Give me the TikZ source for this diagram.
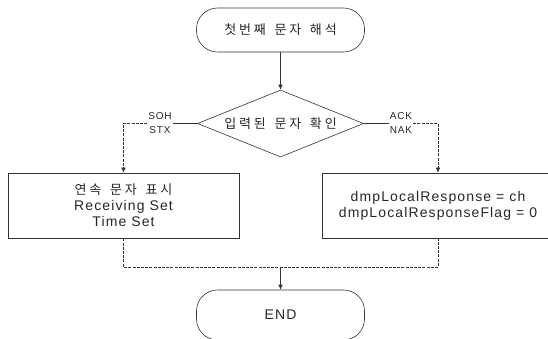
\documentclass[tikz,border=0pt]{standalone}
\usepackage{fontspec}
\setmainfont{Liberation Sans}[LetterSpace=8]
\newfontfamily\kr{Noto Sans CJK KR}[LetterSpace=22,WordSpace=1.5]
\usetikzlibrary{shapes.geometric,arrows.meta}
\begin{document}
\begin{tikzpicture}[x=1pt,y=-1pt,
  every node/.style={font=\fontsize{14}{16}\selectfont, text=black!85},
  ln/.style={draw=black!80, line width=0.6pt},
  term/.style={ln, rectangle, rounded corners=21pt, minimum width=168pt, minimum height=44pt, inner sep=0pt},
  procbox/.style={ln, rectangle, minimum height=65pt, inner sep=0pt, align=center},
  dec/.style={ln, diamond, shape aspect=2.5, inner sep=0pt, minimum width=166pt, minimum height=67pt},
  conn/.style={draw=black!80, line width=0.6pt},
  dconn/.style={conn, dash pattern=on 3pt off 1.2pt},
  arr/.style={-{Latex[length=5pt,width=4.5pt]}},
  lbl/.style={font=\fontsize{10}{14}\selectfont, fill=white, inner sep=1pt, align=center}]
\useasboundingbox (0,0) rectangle (548,339);
\clip (0,0) rectangle (548,339);
\node[term] (start) at (280.5,30) {\fontsize{13}{15}\kr 첫번째 문자 해석};
\node[dec] (chk) at (280.5,123.5) {\fontsize{13}{15}\kr 입력된 문자 확인};
\node[procbox, minimum width=231pt] (lbox) at (123.5,205.5) {{\fontsize{13}{16}\kr 연속 문자 표시}\\Receiving Set\\Time Set};
\node[procbox, minimum width=232pt] (rbox) at (438,205.5) {dmpLocalResponse = ch\\dmpLocalResponseFlag = 0};
\node[term, minimum height=50pt] (end) at (280.5,315) {END};
\draw[conn,arr] (start) -- (chk);
\node[lbl] (soh) at (160,123.5) {SOH\\STX};
\draw[conn] (chk.west) -- (soh.east);
\draw[dconn,arr] (soh.west) -- (soh.west -| lbox.north) -- (lbox.north);
\node[lbl] (ack) at (401,123.5) {ACK\\NAK};
\draw[conn] (chk.east) -- (ack.west);
\draw[dconn,arr] (ack.east) -- (ack.east -| rbox.north) -- (rbox.north);
\coordinate (m) at (280.5,267);
\draw[dconn] (lbox.south) -- (lbox.south |- m) -- (rbox.south |- m) -- (rbox.south);
\draw[conn,arr] (m) -- (end);
\end{tikzpicture}
\end{document}
